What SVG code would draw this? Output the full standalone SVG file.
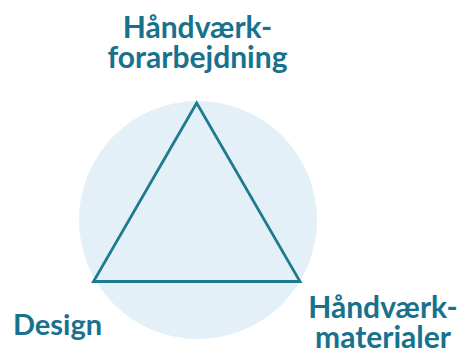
<svg xmlns="http://www.w3.org/2000/svg" width="459" height="354" viewBox="0 0 459 354">
<style>
.lbl{font-family:Lato,"Liberation Sans",sans-serif;font-weight:700;font-size:30px;fill:#18718d}
.c{text-anchor:middle}
</style>
<rect width="459" height="354" fill="#ffffff"/>
<g id="circle"><circle cx="198" cy="220" r="119" fill="#e3f0f7"/></g>
<g id="connectors"><polygon points="196.7,103 93.5,281.5 300,281.5" fill="none" stroke="#1f7a8f" stroke-width="2.8" stroke-linejoin="miter"/></g>
<g id="node-top"><text class="lbl c" x="197.5" y="38">Håndværk-</text><text class="lbl c" x="197.5" y="68">forarbejdning</text></g>
<g id="node-left"><text class="lbl" x="13" y="335" style="font-size:29px">Design</text></g>
<g id="node-right"><text class="lbl c" x="383" y="318">Håndværk-</text><text class="lbl c" x="383" y="348">materialer</text></g>
</svg>
